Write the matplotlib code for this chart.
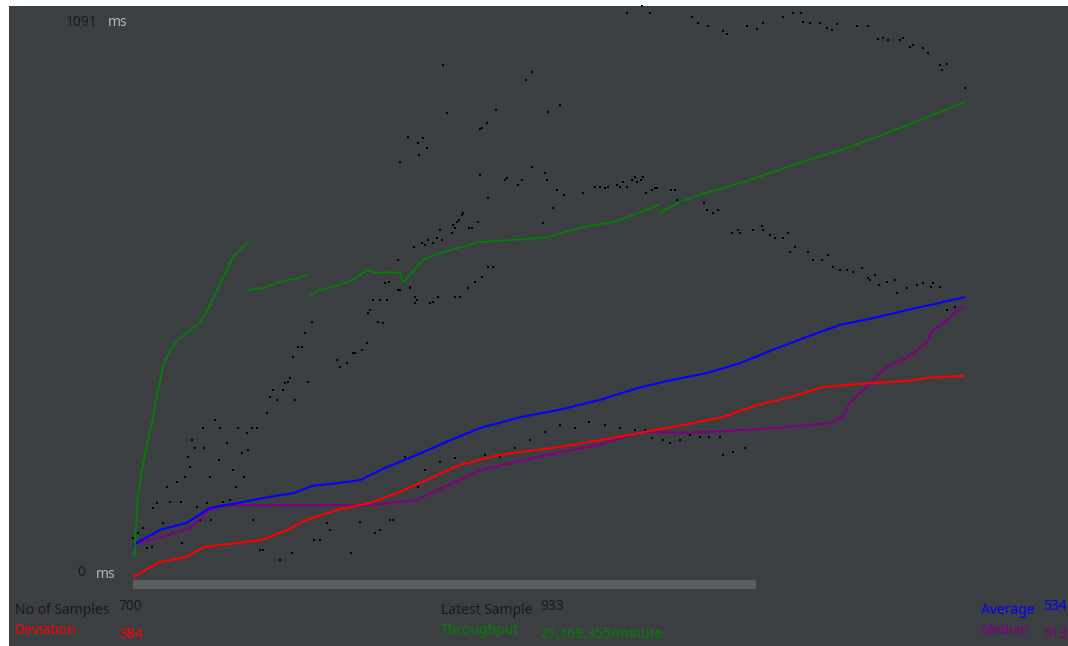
import numpy as np
import matplotlib
matplotlib.use("Agg")
import matplotlib.pyplot as plt
from matplotlib.patches import Rectangle

# ---------------------------------------------------------------- data
N_SAMPLES = 700
Y_MAX_MS = 1091

# individual samples (sample number, response time in ms)
sample_idx = [
    0, 4, 8, 12, 16, 17, 20, 25, 29, 31, 34, 37, 40, 41, 44, 46, 48, 50, 52, 54,
    56, 59, 60, 62, 65, 66, 69, 72, 73, 76, 79, 82, 84, 87, 88, 92, 93, 96, 97, 100,
    101, 104, 107, 109, 113, 115, 118, 121, 124, 126, 128, 130, 132, 134, 135, 136, 139, 142, 145, 147,
    151, 152, 157, 163, 166, 172, 174, 180, 183, 185, 187, 191, 193, 197, 198, 199, 202, 204, 206, 208,
    210, 214, 216, 219, 223, 225, 227, 229, 233, 236, 237, 239, 240,
    225, 231, 240, 241, 244, 247, 261, 264, 292, 294, 298, 305, 331, 336, 349, 359,
    243, 246, 248, 252, 256, 258, 260, 268, 269, 271, 273, 274, 277, 278, 283, 285, 290,
    208, 212, 215, 223, 233, 237, 250, 252, 257, 271, 275, 282, 288, 294, 299, 303,
    292, 299, 313, 315, 324, 327, 336, 345, 347, 348, 353, 357, 363, 379, 389, 393, 397, 400, 407, 410,
    412, 416, 420, 422, 424, 427, 429, 432, 437, 439, 441, 453, 456, 458, 460,
    480, 483, 488, 492, 504, 509, 511, 522, 529, 530, 536, 540, 547, 551, 553, 557, 568, 572, 580, 585,
    589, 595, 601, 606, 613, 618, 620, 624, 628, 634, 641, 643, 651, 660, 665, 671, 673, 679, 685, 692,
    431, 437, 446, 452, 460, 469, 477, 485, 494, 496, 505, 515,
    246, 258, 271, 283, 296, 309, 321, 334, 347, 359, 372, 384, 397, 410, 422,
    416, 428, 435, 470, 475, 484, 496, 500, 517, 525, 530, 547, 555, 562, 564, 570, 578, 584, 588, 592,
    609, 618, 627, 631, 635, 645, 648, 654, 656, 665, 669, 679, 681, 685, 700,
]
sample_ms = [
    74, 84, 93, 55, 57, 132, 141, 103, 172, 143, 84, 181, 143, 65, 191, 229, 210, 261, 246, 133,
    109, 284, 246, 141, 191, 109, 299, 223, 284, 143, 256, 147, 204, 172, 284, 236, 191, 275, 242, 284,
    109, 284, 51, 51, 313, 343, 357, 338, 32, 357, 370, 372, 380, 46, 420, 338, 439, 439, 465, 372,
    486, 71, 71, 103, 90, 414, 400, 408, 46, 427, 427, 105, 433, 446, 503, 509, 528, 84, 486, 90,
    484, 528, 109, 109, 605, 547, 561, 229, 553, 629, 534, 528, 172,
    791, 839, 828, 805, 837, 818, 976, 885, 854, 856, 866, 891, 948, 963, 887, 900,
    637, 633, 643, 637, 646, 662, 643, 656, 671, 666, 677, 681, 690, 694, 666, 666, 677,
    528, 561, 563, 547, 551, 523, 523, 524, 534, 534, 534, 551, 563, 572, 591, 591,
    767, 723, 757, 761, 748, 757, 782, 675, 770, 757, 704, 738, 729, 732, 744, 744, 742, 744, 748, 744,
    753, 744, 757, 763, 753, 757, 763, 732, 738, 742, 742, 738, 738, 719, 715,
    713, 700, 694, 700, 656, 662, 656, 662, 669, 662, 652, 646, 646, 656, 620, 629, 620, 605, 605, 614,
    591, 585, 585, 582, 589, 570, 566, 576, 557, 563, 566, 542, 551, 557, 561, 553, 561, 553, 509, 515,
    280, 265, 261, 256, 261, 271, 267, 267, 267, 233, 238, 246,
    204, 219, 227, 219, 233, 229, 246, 261, 277, 290, 284, 296, 290, 284, 280,
    1076, 1089, 1076, 1068, 1057, 1051, 1041, 1036, 1051, 1045, 1057, 1068, 1076, 1076, 1058, 1057, 1057, 1047, 1043, 1055,
    1051, 1051, 1026, 1028, 1024, 1024, 1028, 1011, 1015, 1009, 999, 976, 967, 978, 933,
]

# running statistics (sample number, ms)
avg_idx = [0, 23, 45, 65, 88, 115, 135, 151, 172, 191, 214, 241, 267, 292, 326, 359, 393, 427,
           454, 483, 511, 538, 567, 595, 623, 651, 679, 700]
avg_ms = [61, 90, 103, 132, 141, 153, 160, 174, 179, 185, 210, 235, 261, 284, 305, 319, 338, 362,
          376, 389, 408, 433, 458, 481, 494, 509, 523, 534]

med_idx = [0, 23, 48, 62, 76, 157, 199, 239, 292, 359, 393, 427, 469, 511, 553, 586, 597, 603,
           617, 634, 651, 668, 673, 685, 693, 700]
med_ms = [61, 76, 93, 124, 137, 137, 137, 147, 204, 238, 252, 277, 275, 280, 286, 294, 305, 332,
          362, 401, 418, 448, 471, 490, 509, 513]

dev_idx = [0, 23, 45, 59, 88, 109, 130, 146, 172, 199, 222, 241, 275, 309, 359, 393, 427, 463,
           496, 525, 553, 580, 609, 651, 671, 700]
dev_ms = [0, 29, 38, 57, 65, 71, 90, 109, 128, 141, 160, 179, 214, 233, 248, 261, 275, 290,
          305, 328, 343, 362, 368, 374, 380, 384]

# throughput (requests / minute); None marks breaks in the trace
tp_idx = [1, 4, 8, 12, 16, 20, 25, 31, 38, 48, 56, 65, 76, 84, 96, None,
          97, 109, 121, 130, 138, 146, None,
          149, 157, 168, 185, 197, 205, 214, 225, 227, 244, 258, 292, 320, 348,
          376, 404, 432, 442, None, 443, 460, 477, 519, 561, 603, 645, 700]
tp_per_min = [891, 3565, 4900, 5971, 6900, 8021, 9358, 10115, 10561, 11006, 11318, 12120, 13368,
              14259, 14883, None,
              12789, 12878, 13101, 13234, 13323, 13457, None,
              12566, 12789, 12922, 13234, 13680, 13546, 13591, 13546, 13108,
              14136, 14440, 14931, 15024, 15141, 15562, 15819, 16356, 16590, None, 16216, 16707,
              17034, 17688, 18459, 19160, 20001, 21169.355]
TP_AXIS_MAX = 25492  # throughput value at the top of the plot

# summary figures shown under the plot
n_samples = 700
latest_sample = 933
average = 534
median = 513
deviation = 384
throughput_text = "21,169.355/minute"

# ---------------------------------------------------------------- figure
W, H = 1068, 646
BG = "#3c3f41"
FONT = ["Noto Sans", "DejaVu Sans"]

fig = plt.figure(figsize=(W / 100, H / 100), dpi=100)
fig.patch.set_facecolor("white")
fig.add_artist(Rectangle((9 / W, 0), 1 - 9 / W, (H - 6) / H, transform=fig.transFigure,
                         facecolor=BG, edgecolor="none", zorder=0))

# bar under the plotting area
fig.add_artist(Rectangle((133 / W, (H - 589) / H), (756 - 133) / W, 9 / H,
                         transform=fig.transFigure, facecolor="#5b5c5e", edgecolor="none", zorder=1))

ax = fig.add_axes([133 / W, (H - 577) / H, 832 / W, 572 / H])
ax.set_xlim(0, N_SAMPLES)
ax.set_ylim(0, Y_MAX_MS)
ax.axis("off")
ax.patch.set_alpha(0)

ax_tp = ax.twinx()
ax_tp.set_ylim(0, TP_AXIS_MAX)
ax_tp.axis("off")


def _arr(vals):
    return np.array([np.nan if v is None else v for v in vals], dtype=float)


ax.scatter(sample_idx, sample_ms, s=3.5, marker="s", color="black", linewidths=0,
           zorder=3, clip_on=False)
ax_tp.plot(_arr(tp_idx), _arr(tp_per_min), color="#008000", lw=1.3, zorder=4)
ax.plot(med_idx, med_ms, color="#800080", lw=1.5, zorder=5)
ax.plot(dev_idx, dev_ms, color="#ff0000", lw=1.5, zorder=6)
ax.plot(avg_idx, avg_ms, color="#0000ff", lw=1.5, zorder=7)


def label(x, y, s, color, size=10):
    fig.text(x / W, 1 - y / H, s, color=color, fontsize=size, family=FONT,
             ha="left", va="center")


# axis extremes
label(66, 22, str(Y_MAX_MS), "#1a1a1a")
label(108, 22, "ms", "#b4b4b4")
label(77, 573, "0", "#1a1a1a")
label(96, 574, "ms", "#b4b4b4")

# summary block
label(15, 611, "No of Samples", "#1a1a1a")
label(118, 606, str(n_samples), "#1a1a1a")
label(15, 630, "Deviation", "#ff0000")
label(119, 634, str(deviation), "#ff0000")

label(441, 611, "Latest Sample", "#1a1a1a")
label(540, 606, str(latest_sample), "#1a1a1a")
label(441, 631, "Throughput", "#008000")
label(540, 634, throughput_text, "#008000")

label(981, 611, "Average", "#0000ff")
label(1043, 606, str(average), "#0000ff")
label(981, 630, "Median", "#800080")
label(1043, 634, str(median), "#800080")

fig.savefig("out.png", dpi=100, facecolor=fig.get_facecolor())
